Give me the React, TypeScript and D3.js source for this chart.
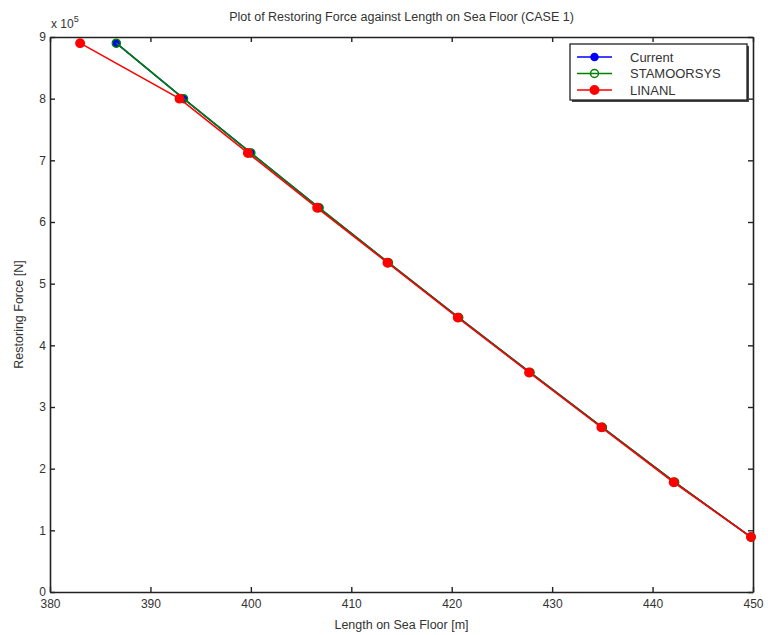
import React, { useEffect, useRef } from 'react';
import * as d3 from 'd3';

// lengths on sea floor [m]
const currentLen = [386.6, 393.3, 400.0, 406.8, 413.7, 420.7, 427.8, 435.0, 442.2, 449.8];
const stamoorLen = [386.6, 393.3, 400.0, 406.8, 413.7, 420.7, 427.8, 435.0, 442.2, 449.8];
const linanlLen = [383.0, 392.9, 399.7, 406.6, 413.6, 420.6, 427.7, 434.9, 442.1, 449.8];
// restoring force, x 10^5 N
const forceVals = [8.9, 8.0, 7.12, 6.23, 5.34, 4.45, 3.56, 2.67, 1.78, 0.89];

const xTicks = [380, 390, 400, 410, 420, 430, 440, 450];
const yTicks = [0, 1, 2, 3, 4, 5, 6, 7, 8, 9];

const seriesNames = ['Current', 'STAMOORSYS', 'LINANL'];
const seriesColors = ['#0000ff', '#008000', '#ff0000'];
const markerR = [3.5, 4, 4.2];

const App = () => {
    const ref = useRef<SVGSVGElement>(null);

    useEffect(() => {
        const svg = d3.select(ref.current);
        svg.selectAll('*').remove();

        const left = 50, right = 753, top = 37, bottom = 592;
        const font = 'Liberation Sans, Arial, sans-serif';
        const textCol = '#333';

        const x = d3.scaleLinear().domain([380, 450]).range([left, right]);
        const y = d3.scaleLinear().domain([0, 9]).range([bottom, top]);

        svg.append('rect')
            .attr('x', 0).attr('y', 0).attr('width', 770).attr('height', 635)
            .attr('fill', '#fff');

        // axes, ticks pointing inward (matlab style)
        const axB = svg.append('g').attr('transform', `translate(0,${bottom})`)
            .call(d3.axisBottom(x).tickValues(xTicks).tickSizeInner(-5).tickSizeOuter(0).tickPadding(9));
        const axT = svg.append('g').attr('transform', `translate(0,${top})`)
            .call(d3.axisTop(x).tickValues(xTicks).tickSizeInner(-5).tickSizeOuter(0).tickFormat(() => ''));
        const axL = svg.append('g').attr('transform', `translate(${left},0)`)
            .call(d3.axisLeft(y).tickValues(yTicks).tickSizeInner(-5).tickSizeOuter(0).tickPadding(4));
        const axR = svg.append('g').attr('transform', `translate(${right},0)`)
            .call(d3.axisRight(y).tickValues(yTicks).tickSizeInner(-5).tickSizeOuter(0).tickFormat(() => ''));
        [axB, axT, axL, axR].forEach(g => {
            g.selectAll('.domain').attr('stroke', '#222').attr('stroke-width', 1.6);
            g.selectAll('.tick line').attr('stroke', '#222').attr('stroke-width', 1.4);
            g.selectAll('text').attr('font-family', font).attr('font-size', 12).attr('fill', textCol);
        });
        axB.selectAll('text').attr('dy', '0.55em');

        const line = d3.line<[number, number]>().x(d => x(d[0])).y(d => y(d[1]));
        const allLens = [currentLen, stamoorLen, linanlLen];

        allLens.forEach((lens, i) => {
            const pts: [number, number][] = lens.map((l, j) => [l, forceVals[j]]);
            svg.append('path')
                .datum(pts)
                .attr('d', line)
                .attr('fill', 'none')
                .attr('stroke', seriesColors[i])
                .attr('stroke-width', 1.6);
            svg.append('g').selectAll('circle')
                .data(pts)
                .enter()
                .append('circle')
                .attr('cx', d => x(d[0]))
                .attr('cy', d => y(d[1]))
                .attr('r', markerR[i])
                .attr('fill', i === 1 ? 'none' : seriesColors[i])
                .attr('stroke', seriesColors[i])
                .attr('stroke-width', 1.5);
        });

        // legend
        const lg = svg.append('g');
        lg.append('rect')
            .attr('x', 572).attr('y', 46).attr('width', 177).attr('height', 56)
            .attr('fill', '#444');
        lg.append('rect')
            .attr('x', 570).attr('y', 44).attr('width', 177).attr('height', 56)
            .attr('fill', '#fff').attr('stroke', '#222').attr('stroke-width', 1.3);
        seriesNames.forEach((name, i) => {
            const ly = 57 + i * 16.5;
            lg.append('line')
                .attr('x1', 577).attr('x2', 612).attr('y1', ly).attr('y2', ly)
                .attr('stroke', seriesColors[i]).attr('stroke-width', 1.6);
            lg.append('circle')
                .attr('cx', 594.5).attr('cy', ly)
                .attr('r', markerR[i])
                .attr('fill', i === 1 ? 'none' : seriesColors[i])
                .attr('stroke', seriesColors[i]).attr('stroke-width', 1.5);
            lg.append('text')
                .attr('x', 630).attr('y', ly + 4.5)
                .attr('font-family', font).attr('font-size', 13).attr('fill', textCol)
                .text(name);
        });

        // title and labels
        svg.append('text')
            .attr('x', (left + right) / 2).attr('y', 21)
            .attr('text-anchor', 'middle')
            .attr('font-family', font).attr('font-size', 12.5).attr('fill', textCol)
            .text('Plot of Restoring Force against Length on Sea Floor (CASE 1)');
        svg.append('text')
            .attr('x', (left + right) / 2).attr('y', 629)
            .attr('text-anchor', 'middle')
            .attr('font-family', font).attr('font-size', 12.5).attr('fill', textCol)
            .text('Length on Sea Floor [m]');
        svg.append('text')
            .attr('transform', `translate(23,${(top + bottom) / 2}) rotate(-90)`)
            .attr('text-anchor', 'middle')
            .attr('font-family', font).attr('font-size', 12.5).attr('fill', textCol)
            .text('Restoring Force [N]');
        const ex = svg.append('text')
            .attr('x', 51).attr('y', 28)
            .attr('font-family', font).attr('font-size', 12).attr('fill', textCol);
        ex.append('tspan').text('x 10');
        ex.append('tspan').attr('dy', -6).attr('font-size', 9).text('5');
    }, []);

    return (
        <svg ref={ref} width={770} height={635}
            style={{ position: 'absolute', left: 0, top: 0, display: 'block' }} />
    );
};

export default App;
